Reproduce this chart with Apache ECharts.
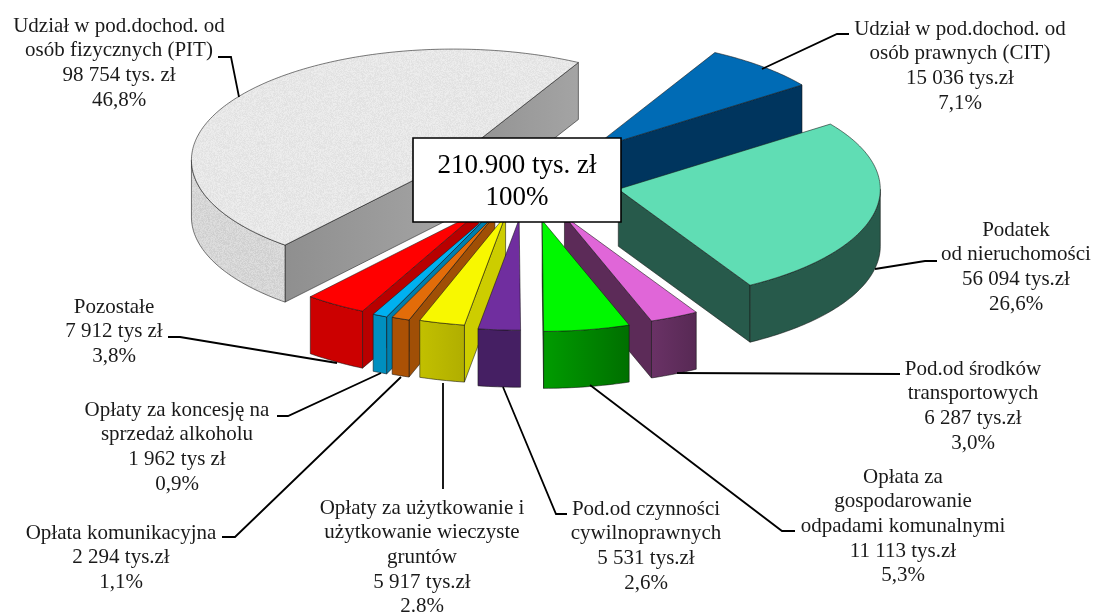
<!DOCTYPE html>
<html><head><meta charset="utf-8">
<style>html,body{margin:0;padding:0;background:#fff}#c{width:1095px;height:612px}</style>
<script src="https://cdn.jsdelivr.net/npm/echarts@6/dist/echarts.min.js"></script>
</head><body><div id="c"></div>
<script>
// ---- data, clockwise from the start of the PIT slice
var categories = ['PIT','CIT','Podatek od nieruchomości','Środki transportowe','Odpady komunalne','Czynności cywilnoprawne','Użytkowanie','Opłata komunikacyjna','Koncesja na alkohol','Pozostałe'];
var percents = [46.8, 7.1, 26.6, 3.0, 5.3, 2.6, 2.8, 1.1, 0.9, 3.8];
var drawOrder = [1,0,2,3,9,8,7,6,5,4];

// ---- look of the projected pie
var startAngle = 220, rx = 262, ry = 111, depth = 57, cx = 526, cy = 181;
var explode = [0.335,0.37,0.36,0.35,0.36,0.345,0.32,0.33,0.335,0.33];

function noise(base, amp){
  var cv = document.createElement('canvas'); cv.width = cv.height = 96;
  var g = cv.getContext('2d'), seed = 12345;
  for (var y=0;y<96;y+=1) for (var x=0;x<96;x+=1){
    seed = (seed*1103515245 + 12345) & 0x7fffffff;
    var v = Math.round(base + ((seed>>8)%1000/1000-0.5)*amp);
    g.fillStyle = 'rgb('+v+','+v+','+v+')'; g.fillRect(x,y,1,1);
  }
  return {image:cv, repeat:'repeat'};
}
function lin(a,b){return {type:'linear',x:0,y:0,x2:1,y2:0,colorStops:[{offset:0,color:a},{offset:1,color:b}]};}
var topFill  = [noise(231,14),'#006bb5','#60ddb4','#e066d8','#00f800','#702e9f','#f8f800','#e36c09','#00b0f0','#ff0000'];
var sideFill = [lin('#8f8f8f','#a4a4a4'),'#00355e','#275a4b','#5c2b58','#007000','#451f63','#cdcd00','#a04f06','#007fae','#b80000'];
var wallFill = [noise(214,18),'#00355e','#275a4b',lin('#6a3266','#572954'),lin('#009c00','#006f00'),'#451f63',lin('#c2c000','#b0ae00'),'#ab5105','#008fbf','#cc0000'];

var total = percents.reduce(function(a,b){return a+b;},0);
var rad = Math.PI/180;
function pt(ax,ay,t,dz){return [ax+rx*Math.sin(t*rad), ay-ry*Math.cos(t*rad)+(dz||0)];}
function sliceRange(i){
  var s = startAngle;
  for (var k=0;k<i;k++) s += percents[k]/total*360;
  var e = s+percents[i]/total*360;
  return s>=360 ? [s-360,e-360] : [s,e];
}
var edge = {stroke:'rgba(20,20,20,0.7)',lineWidth:0.8};
function poly(points,fill){return {type:'polygon',shape:{points:points},style:{fill:fill,stroke:edge.stroke,lineWidth:edge.lineWidth}};}

function renderItem(params, api){
  var i = api.value(0), r = sliceRange(i), s=r[0], e=r[1], m=(s+e)/2, k=explode[i];
  var ax = cx+rx*Math.sin(m*rad)*k, ay = cy-ry*Math.cos(m*rad)*k;
  var ch = [], t;
  var ns = ((s%360)+360)%360, ne = ((e%360)+360)%360;
  if (ns>180 && ns<360) ch.push(poly([[ax,ay],pt(ax,ay,s),pt(ax,ay,s,depth),[ax,ay+depth]],sideFill[i]));
  if (ne>0 && ne<180)   ch.push(poly([[ax,ay],pt(ax,ay,e),pt(ax,ay,e,depth),[ax,ay+depth]],sideFill[i]));
  var a = Math.max(s,90), b = Math.min(e,270);
  if (b>a){
    var up=[],dn=[];
    for (t=a;t<b;t+=1){up.push(pt(ax,ay,t));dn.unshift(pt(ax,ay,t,depth));}
    up.push(pt(ax,ay,b));dn.unshift(pt(ax,ay,b,depth));
    ch.push(poly(up.concat(dn),wallFill[i]));
  }
  var top=[[ax,ay]];
  for (t=s;t<e;t+=1) top.push(pt(ax,ay,t));
  top.push(pt(ax,ay,e));
  ch.push(poly(top,topFill[i]));
  return {type:'group',children:ch};
}

// ---- annotations
var font = '"Liberation Serif","Times New Roman",serif';
var labels = [
 {x:119,y:14,t:'Udział w pod.dochod. od\nosób fizycznych (PIT)\n98 754 tys. zł\n46,8%'},
 {x:960,y:17,t:'Udział w pod.dochod. od\nosób prawnych (CIT)\n15 036 tys.zł\n7,1%'},
 {x:1016,y:218,t:'Podatek\nod nieruchomości\n56 094 tys.zł\n26,6%'},
 {x:973,y:357,t:'Pod.od środków\ntransportowych\n6 287 tys.zł\n3,0%'},
 {x:903,y:465,t:'Opłata za\ngospodarowanie\nodpadami komunalnymi\n11 113 tys.zł\n5,3%'},
 {x:646,y:497,t:'Pod.od czynności\ncywilnoprawnych\n5 531 tys.zł\n2,6%'},
 {x:422,y:496,t:'Opłaty za użytkowanie i\nużytkowanie wieczyste\ngruntów\n5 917 tys.zł\n2.8%'},
 {x:121,y:521,t:'Opłata komunikacyjna\n2 294 tys.zł\n1,1%'},
 {x:177,y:398,t:'Opłaty za koncesję na\nsprzedaż alkoholu\n1 962 tys zł\n0,9%'},
 {x:114,y:295,t:'Pozostałe\n7 912 tys zł\n3,8%'}
];
var leaders = [
 [[218,57],[231,57],[239,97]],
 [[762,69],[837,34],[849,34]],
 [[875,269],[925,261],[937,261]],
 [[677,373],[900,374]],
 [[590,385],[782,531],[795,531]],
 [[503,387],[556,514],[567,514]],
 [[443,383],[443,489]],
 [[401,377],[235,537],[222,537]],
 [[381,373],[288,416],[277,416]],
 [[337,363],[180,337],[168,337]]
];
var graphics = [];
leaders.forEach(function(p){graphics.push({type:'polyline',shape:{points:p},style:{stroke:'#000',lineWidth:1.8,fill:null},z:5});});
labels.forEach(function(l){graphics.push({type:'text',x:l.x,y:l.y,z:6,style:{text:l.t,fill:'#1a1a1a',font:'21px '+font,align:'center',verticalAlign:'top',lineHeight:24.6}});});
graphics.push({type:'rect',shape:{x:413,y:138,width:208,height:84},style:{fill:'#fff',stroke:'#000',lineWidth:1.6},z:7});
graphics.push({type:'text',x:517,y:150,z:8,style:{text:'210.900 tys. zł\n100%',fill:'#000',font:'27px '+font,align:'center',verticalAlign:'top',lineHeight:32}});

var chart = echarts.init(document.getElementById('c'),null,{renderer:'canvas'});
chart.setOption({
  animation:false,
  backgroundColor:'#fff',
  series:[{type:'custom',coordinateSystem:'none',renderItem:renderItem,silent:true,
    data:drawOrder.map(function(i){return [i,percents[i],categories[i]];})}],
  graphic:graphics
});
</script></body></html>
